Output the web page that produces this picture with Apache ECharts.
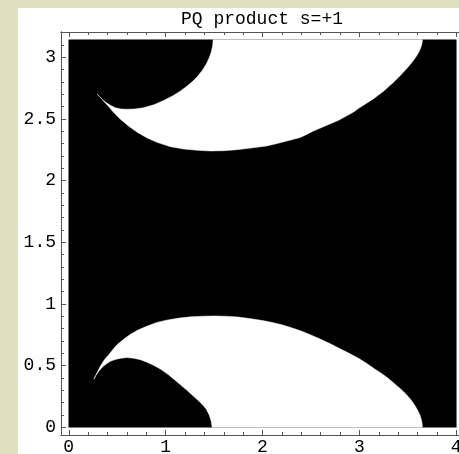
<!DOCTYPE html>
<html>
<head>
<meta charset="utf-8">
<script src="https://cdn.jsdelivr.net/npm/echarts@6/dist/echarts.min.js"></script>
<style>
html,body{margin:0;padding:0;background:#e2dec0;}
#c{width:459px;height:454px;}
</style>
</head>
<body>
<div id="c"></div>
<script>
// ---- data ----
const TITLE = 'PQ product s=+1';
const X_RANGE = [0, 4];
const Y_RANGE = [0, 3.1416];
const X_MAJOR = [0, 1, 2, 3, 4];
const X_MINOR = [0,0.2,0.4,0.6,0.8,1,1.2,1.4,1.6,1.8,2,2.2,2.4,2.6,2.8,3,3.2,3.4,3.6,3.8,4];
const Y_MAJOR = [0, 0.5, 1, 1.5, 2, 2.5, 3];
const Y_MINOR = [0,0.1,0.2,0.3,0.4,0.5,0.6,0.7,0.8,0.9,1,1.1,1.2,1.3,1.4,1.5,1.6,1.7,1.8,1.9,2,2.1,2.2,2.3,2.4,2.5,2.6,2.7,2.8,2.9,3,3.1];

// black region = whole domain
const BLACK_REGION = [[0,0],[4,0],[4,3.1416],[0,3.1416]];

// lower white region: outer (upper) edge from tip to bottom right
const LOWER_OUTER = [[0.26,0.39],[0.29,0.44],[0.33,0.50],[0.37,0.55],[0.415,0.59],[0.46,0.635],[0.50,0.67],[0.57,0.715],[0.64,0.755],[0.72,0.79],[0.81,0.82],[0.91,0.85],[1.02,0.87],[1.14,0.885],[1.26,0.895],[1.38,0.90],[1.50,0.902],[1.62,0.90],[1.75,0.893],[1.88,0.88],[2.00,0.865],[2.10,0.85],[2.20,0.83],[2.30,0.807],[2.40,0.78],[2.50,0.748],[2.60,0.713],[2.70,0.677],[2.80,0.637],[2.90,0.597],[3.00,0.555],[3.08,0.515],[3.15,0.477],[3.23,0.435],[3.30,0.395],[3.36,0.355],[3.42,0.315],[3.48,0.27],[3.53,0.225],[3.57,0.18],[3.60,0.14],[3.625,0.10],[3.64,0.06],[3.648,0.03],[3.65,0.0]];
// lower white region: inner edge (top of lower-left black lobe) from tip to bottom
const LOWER_INNER = [[0.26,0.39],[0.28,0.42],[0.31,0.455],[0.35,0.49],[0.39,0.515],[0.43,0.535],[0.48,0.55],[0.54,0.56],[0.60,0.565],[0.67,0.56],[0.74,0.548],[0.80,0.53],[0.87,0.505],[0.95,0.47],[1.03,0.425],[1.10,0.38],[1.16,0.34],[1.22,0.30],[1.29,0.25],[1.34,0.215],[1.39,0.175],[1.42,0.145],[1.45,0.10],[1.47,0.05],[1.48,0.0]];

// upper white region: top edge (bottom of upper-left black lobe) from tip to top
const UPPER_TOP = [[0.295,2.70],[0.32,2.68],[0.35,2.655],[0.39,2.63],[0.43,2.61],[0.48,2.59],[0.54,2.58],[0.60,2.578],[0.68,2.58],[0.77,2.59],[0.88,2.615],[0.98,2.65],[1.08,2.69],[1.15,2.725],[1.22,2.765],[1.28,2.805],[1.33,2.845],[1.38,2.895],[1.42,2.945],[1.45,2.995],[1.47,3.04],[1.485,3.09],[1.49,3.1416]];
// upper white region: bottom edge from tip to top right
const UPPER_BOTTOM = [[0.295,2.70],[0.32,2.68],[0.36,2.645],[0.40,2.61],[0.46,2.555],[0.53,2.50],[0.62,2.44],[0.71,2.39],[0.81,2.345],[0.91,2.31],[1.05,2.275],[1.19,2.255],[1.33,2.245],[1.46,2.24],[1.60,2.242],[1.73,2.25],[1.90,2.265],[2.04,2.28],[2.12,2.295],[2.20,2.31],[2.30,2.33],[2.39,2.35],[2.46,2.375],[2.52,2.40],[2.61,2.43],[2.70,2.46],[2.79,2.49],[2.87,2.525],[2.94,2.555],[3.00,2.59],[3.07,2.625],[3.14,2.66],[3.20,2.695],[3.25,2.725],[3.30,2.76],[3.35,2.795],[3.42,2.85],[3.48,2.90],[3.54,2.955],[3.59,3.01],[3.62,3.05],[3.64,3.09],[3.648,3.12],[3.65,3.1416]];

// ---- build ----
const lowerWhite = LOWER_OUTER.concat(LOWER_INNER.slice().reverse());
const upperWhite = UPPER_TOP.concat(UPPER_BOTTOM.slice().reverse());

const padX = (X_RANGE[1]-X_RANGE[0])*0.02;
const padY = (Y_RANGE[1]-Y_RANGE[0])*0.02;

const FONT = 'Liberation Mono';
const LINE = '#555';

function polySeries(points, color, z){
  return {
    type: 'custom', z: z, silent: true, animation: false,
    data: [points[0]],
    renderItem: function(params, api){
      return {type:'polygon', shape:{points: points.map(p => api.coord(p))},
              style:{fill: color, stroke: color, lineWidth: 0.5}};
    }
  };
}

function xAxisDef(position, ticks, len, labels){
  return {
    type:'value', position: position, min: X_RANGE[0]-padX, max: X_RANGE[1]+padX,
    axisLine:{show:true, onZero:false, lineStyle:{color:LINE, width:1}},
    axisTick:{show:true, inside:true, length:len, customValues:ticks, lineStyle:{color:LINE}},
    axisLabel:{show:labels, customValues:X_MAJOR, fontFamily:FONT, fontSize:18, color:'#000', margin:3},
    splitLine:{show:false}
  };
}
function yAxisDef(position, ticks, len, labels){
  return {
    type:'value', position: position, min: Y_RANGE[0]-padY, max: Y_RANGE[1]+padY,
    axisLine:{show:true, onZero:false, lineStyle:{color:LINE, width:1}},
    axisTick:{show:true, inside:true, length:len, customValues:ticks, lineStyle:{color:LINE}},
    axisLabel:{show:labels, customValues:Y_MAJOR, fontFamily:FONT, fontSize:18, color:'#000', margin:5},
    splitLine:{show:false}
  };
}

const chart = echarts.init(document.getElementById('c'), null, {renderer:'canvas'});
chart.setOption({
  animation:false,
  backgroundColor:'#e2dec0',
  graphic:[
    {type:'rect', z:-10, shape:{x:18, y:8, width:460, height:460}, style:{fill:'#ffffff'}},
    {type:'text', z:10, x:262, y:19, style:{text:TITLE, font:'18px "Liberation Mono"', fill:'#000', align:'center', verticalAlign:'middle'}}
  ],
  grid:{left:61, top:32, width:403, height:403, containLabel:false, outerBoundsMode:'none'},
  xAxis:[
    xAxisDef('bottom', X_MAJOR, 5, true),
    xAxisDef('bottom', X_MINOR, 3, false),
    xAxisDef('top', X_MAJOR, 5, false),
    xAxisDef('top', X_MINOR, 3, false)
  ],
  yAxis:[
    yAxisDef('left', Y_MAJOR, 5, true),
    yAxisDef('left', Y_MINOR, 3, false)
  ],
  series:[
    polySeries(BLACK_REGION, '#000000', 1),
    polySeries(lowerWhite, '#ffffff', 2),
    polySeries(upperWhite, '#ffffff', 2)
  ]
});
</script>
</body>
</html>
